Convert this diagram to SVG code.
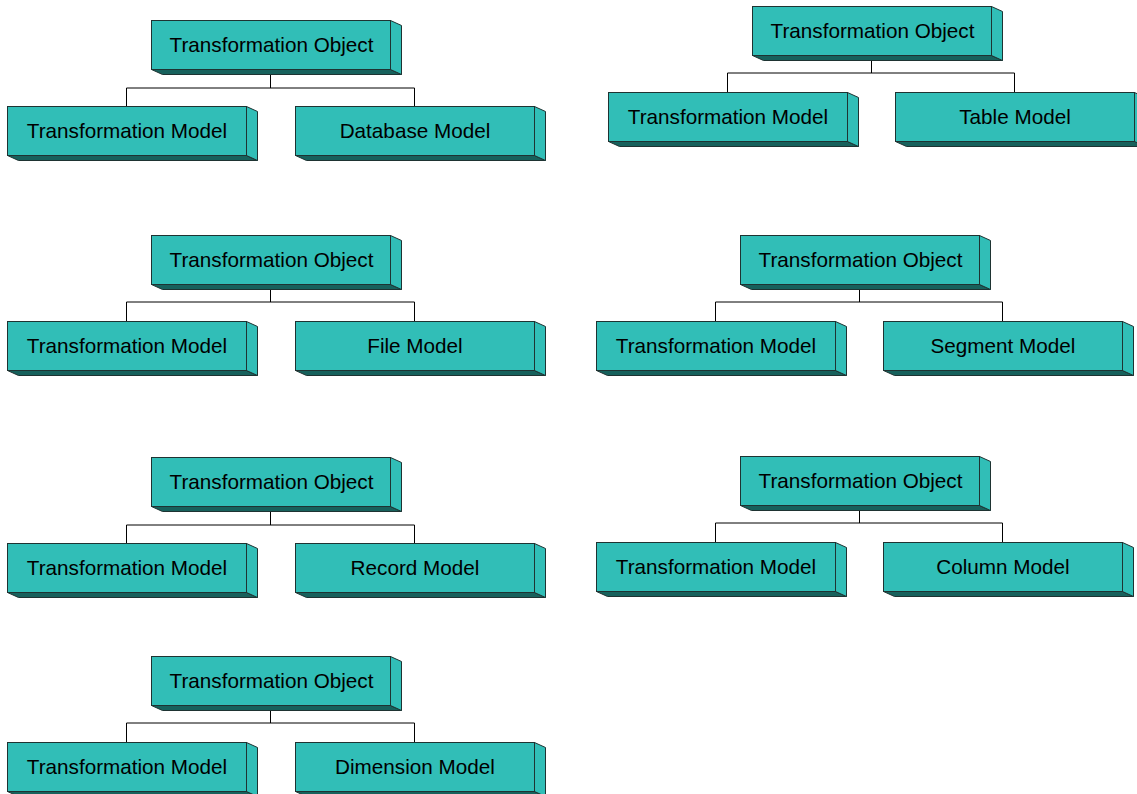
<svg xmlns="http://www.w3.org/2000/svg" xmlns:xlink="http://www.w3.org/1999/xlink" width="1137" height="794" viewBox="0 0 1137 794">
<style>
.front{fill:#31BEB7;stroke:#1e3332;stroke-width:1}
.side{fill:#31BEB7;stroke:#1e3332;stroke-width:1}
.bottom{fill:#17615C;stroke:#1e3332;stroke-width:1}
.lbl{font-family:"Liberation Sans",Arial,sans-serif;font-size:20.7px;fill:#000;text-anchor:middle}
.conn{fill:none;stroke:#000;stroke-width:1}
</style>
<defs>
<g id="box">
<polygon class="bottom" points="0,49 239,49 250,54 11,54"/>
<polygon class="side" points="239,0 250,5 250,54 239,49"/>
<rect class="front" x="0" y="0" width="239" height="49"/>
</g>
</defs>
<rect width="1137" height="794" fill="#fff"/>
<g id="connectors">
<path class="conn" d="M270.5,74V88M126.5,88H414.5M126.5,88V106M414.5,88V106"/>
<path class="conn" d="M270.5,289V302M126.5,302H414.5M126.5,302V321M414.5,302V321"/>
<path class="conn" d="M270.5,511V525M126.5,525H414.5M126.5,525V543M414.5,525V543"/>
<path class="conn" d="M270.5,710V723M126.5,723H414.5M126.5,723V742M414.5,723V742"/>
<path class="conn" d="M871.5,60V73M727.5,73H1014.5M727.5,73V92M1014.5,73V92"/>
<path class="conn" d="M859.5,289V302M715.5,302H1002.5M715.5,302V321M1002.5,302V321"/>
<path class="conn" d="M859.5,510V523M715.5,523H1002.5M715.5,523V542M1002.5,523V542"/>
</g>
<g id="l1-parent" transform="translate(151.5,20.5)"><use href="#box"/><text class="lbl" x="120" y="31.5">Transformation Object</text></g>
<g id="l1-tm" transform="translate(7.5,106.5)"><use href="#box"/><text class="lbl" x="119.5" y="31.5">Transformation Model</text></g>
<g id="l1-db" transform="translate(295.5,106.5)"><use href="#box"/><text class="lbl" x="119.5" y="31.5">Database Model</text></g>
<g id="l2-parent" transform="translate(151.5,235.5)"><use href="#box"/><text class="lbl" x="120" y="31.5">Transformation Object</text></g>
<g id="l2-tm" transform="translate(7.5,321.5)"><use href="#box"/><text class="lbl" x="119.5" y="31.5">Transformation Model</text></g>
<g id="l2-file" transform="translate(295.5,321.5)"><use href="#box"/><text class="lbl" x="119.5" y="31.5">File Model</text></g>
<g id="l3-parent" transform="translate(151.5,457.5)"><use href="#box"/><text class="lbl" x="120" y="31.5">Transformation Object</text></g>
<g id="l3-tm" transform="translate(7.5,543.5)"><use href="#box"/><text class="lbl" x="119.5" y="31.5">Transformation Model</text></g>
<g id="l3-record" transform="translate(295.5,543.5)"><use href="#box"/><text class="lbl" x="119.5" y="31.5">Record Model</text></g>
<g id="l4-parent" transform="translate(151.5,656.5)"><use href="#box"/><text class="lbl" x="120" y="31.5">Transformation Object</text></g>
<g id="l4-tm" transform="translate(7.5,742.5)"><use href="#box"/><text class="lbl" x="119.5" y="31.5">Transformation Model</text></g>
<g id="l4-dim" transform="translate(295.5,742.5)"><use href="#box"/><text class="lbl" x="119.5" y="31.5">Dimension Model</text></g>
<g id="r1-parent" transform="translate(752.5,6.5)"><use href="#box"/><text class="lbl" x="120" y="31.5">Transformation Object</text></g>
<g id="r1-tm" transform="translate(608.5,92.5)"><use href="#box"/><text class="lbl" x="119.5" y="31.5">Transformation Model</text></g>
<g id="r1-table" transform="translate(895.5,92.5)"><use href="#box"/><text class="lbl" x="119.5" y="31.5">Table Model</text></g>
<g id="r2-parent" transform="translate(740.5,235.5)"><use href="#box"/><text class="lbl" x="120" y="31.5">Transformation Object</text></g>
<g id="r2-tm" transform="translate(596.5,321.5)"><use href="#box"/><text class="lbl" x="119.5" y="31.5">Transformation Model</text></g>
<g id="r2-seg" transform="translate(883.5,321.5)"><use href="#box"/><text class="lbl" x="119.5" y="31.5">Segment Model</text></g>
<g id="r3-parent" transform="translate(740.5,456.5)"><use href="#box"/><text class="lbl" x="120" y="31.5">Transformation Object</text></g>
<g id="r3-tm" transform="translate(596.5,542.5)"><use href="#box"/><text class="lbl" x="119.5" y="31.5">Transformation Model</text></g>
<g id="r3-col" transform="translate(883.5,542.5)"><use href="#box"/><text class="lbl" x="119.5" y="31.5">Column Model</text></g>
</svg>
